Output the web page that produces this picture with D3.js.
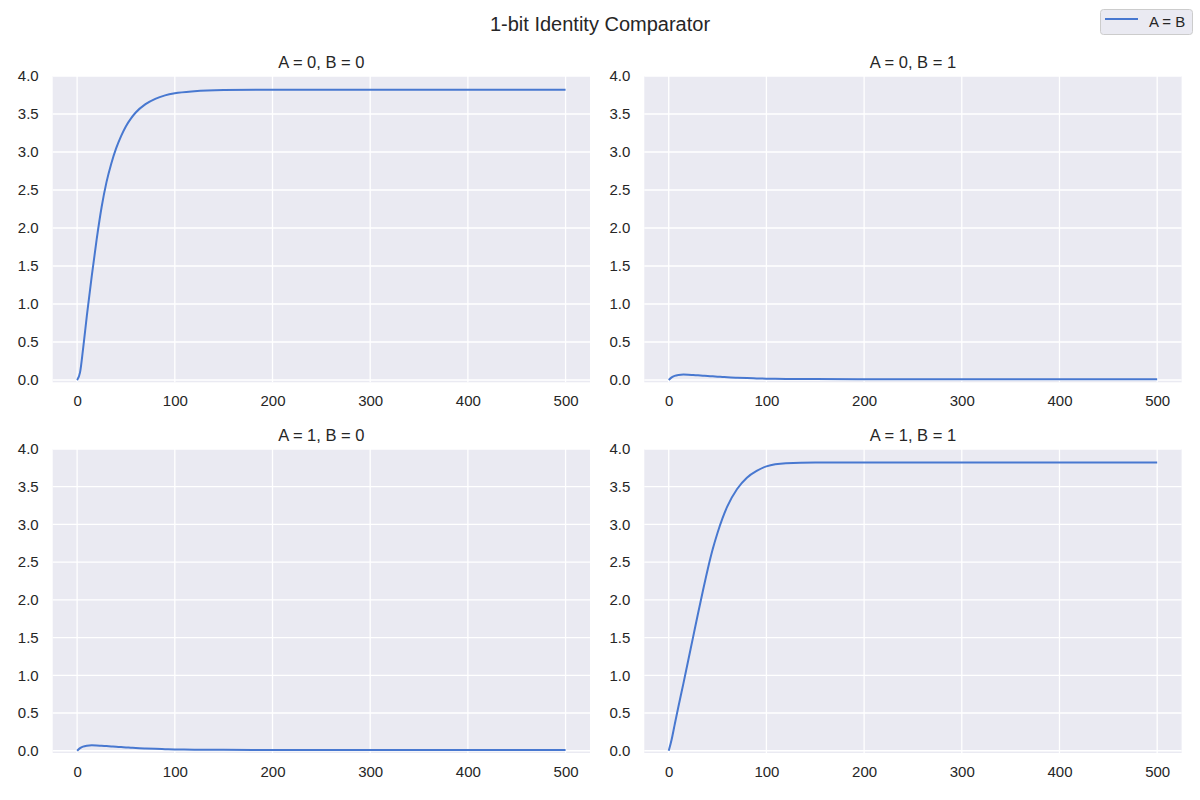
<!DOCTYPE html>
<html>
<head>
<meta charset="utf-8">
<script src="https://cdn.jsdelivr.net/npm/d3@7"></script>
<style>
  body { margin: 0; background: #fff; }
  text { font-family: "Liberation Sans", Arial, sans-serif; fill: #262626; }
</style>
</head>
<body>
<svg id="chart" width="1200" height="800"></svg>
<script>
// Chart data
const chartTitle = "1-bit Identity Comparator";
const panelTitles = ["A = 0, B = 0", "A = 0, B = 1", "A = 1, B = 0", "A = 1, B = 1"];
const seriesName = "A = B";
const timeSteps = [0, 3, 6, 10, 15, 20, 25, 30, 35, 40, 45, 50, 55, 60, 70, 80, 90, 100, 120, 150, 200, 300, 400, 500];
const out00 = [0, 0.1, 0.4, 0.85, 1.37, 1.85, 2.27, 2.6, 2.85, 3.05, 3.21, 3.34, 3.44, 3.52, 3.63, 3.7, 3.745, 3.773, 3.8, 3.815, 3.82, 3.82, 3.82, 3.82];
const out01 = [0, 0.035, 0.055, 0.067, 0.072, 0.07, 0.066, 0.062, 0.057, 0.052, 0.048, 0.044, 0.04, 0.036, 0.03, 0.025, 0.021, 0.018, 0.014, 0.012, 0.011, 0.01, 0.01, 0.01];
const out10 = [0, 0.035, 0.055, 0.067, 0.072, 0.07, 0.066, 0.062, 0.057, 0.052, 0.048, 0.044, 0.04, 0.036, 0.03, 0.025, 0.021, 0.018, 0.014, 0.012, 0.011, 0.01, 0.01, 0.01];
const out11 = [0, 0.15, 0.34, 0.59, 0.89, 1.2, 1.51, 1.82, 2.12, 2.41, 2.67, 2.89, 3.08, 3.24, 3.47, 3.62, 3.71, 3.77, 3.81, 3.82, 3.82, 3.82, 3.82, 3.82];
const xTicks = [0, 100, 200, 300, 400, 500];
const yTicks = [0, 0.5, 1.0, 1.5, 2.0, 2.5, 3.0, 3.5, 4.0];

const panelSeries = [out00, out01, out10, out11];
const lineColor = "#4878d0";

const svg = d3.select("#chart");

// Panel frames (pixel boxes of each axes)
const cols = [{ left: 52.7, right: 590 }, { left: 644.3, right: 1181.6 }];
const rows = [{ top: 76, bottom: 382.3 }, { top: 449, bottom: 753 }];

panelTitles.forEach((title, i) => {
    const col = cols[i % 2];
    const row = rows[Math.floor(i / 2)];

    const x = d3.scaleLinear().domain([-25, 525]).range([col.left, col.right]);
    const y = d3.scaleLinear().domain([-0.03, 4]).range([row.bottom, row.top]);

    const g = svg.append("g");

    // Background
    g.append("rect")
        .attr("x", col.left)
        .attr("y", row.top)
        .attr("width", col.right - col.left)
        .attr("height", row.bottom - row.top)
        .attr("fill", "#eaeaf2");

    // Gridlines
    g.append("g")
        .selectAll("line")
        .data(xTicks)
        .enter().append("line")
        .attr("x1", d => x(d))
        .attr("x2", d => x(d))
        .attr("y1", row.top)
        .attr("y2", row.bottom)
        .attr("stroke", "#fff")
        .attr("stroke-width", 1.3);

    g.append("g")
        .selectAll("line")
        .data(yTicks)
        .enter().append("line")
        .attr("x1", col.left)
        .attr("x2", col.right)
        .attr("y1", d => y(d))
        .attr("y2", d => y(d))
        .attr("stroke", "#fff")
        .attr("stroke-width", 1.3);

    // Axes (labels only, no domain or tick marks)
    const xAxis = g.append("g")
        .attr("transform", `translate(0,${row.bottom})`)
        .call(d3.axisBottom(x).tickValues(xTicks).tickSize(0).tickPadding(13).tickFormat(d3.format("d")));
    const yAxis = g.append("g")
        .attr("transform", `translate(${col.left},0)`)
        .call(d3.axisLeft(y).tickValues(yTicks).tickSize(0).tickPadding(14).tickFormat(d3.format(".1f")));

    [xAxis, yAxis].forEach(a => {
        a.select(".domain").remove();
        a.selectAll("text")
            .style("font-size", "15px")
            .style("font-family", '"Liberation Sans", Arial, sans-serif')
            .attr("fill", "#262626");
    });

    // Line
    const line = d3.line()
        .x((d, j) => x(timeSteps[j]))
        .y(d => y(d))
        .curve(d3.curveMonotoneX);

    g.append("path")
        .datum(panelSeries[i])
        .attr("d", line)
        .attr("fill", "none")
        .attr("stroke", lineColor)
        .attr("stroke-width", 2);

    // Subplot title
    g.append("text")
        .attr("x", (col.left + col.right) / 2)
        .attr("y", row.top - 8)
        .attr("text-anchor", "middle")
        .style("font-size", "16.5px")
        .text(title);
});

// Figure title
svg.append("text")
    .attr("x", 600)
    .attr("y", 31)
    .attr("text-anchor", "middle")
    .style("font-size", "20px")
    .text(chartTitle);

// Legend
const legend = svg.append("g");
legend.append("rect")
    .attr("x", 1100.5)
    .attr("y", 9.5)
    .attr("width", 92)
    .attr("height", 25)
    .attr("rx", 3)
    .attr("fill", "#eaeaf2")
    .attr("stroke", "#cccccc")
    .attr("stroke-width", 1);
legend.append("line")
    .attr("x1", 1105)
    .attr("x2", 1138)
    .attr("y1", 19)
    .attr("y2", 19)
    .attr("stroke", lineColor)
    .attr("stroke-width", 2);
legend.append("text")
    .attr("x", 1149)
    .attr("y", 27)
    .style("font-size", "15px")
    .text(seriesName);
</script>
</body>
</html>
